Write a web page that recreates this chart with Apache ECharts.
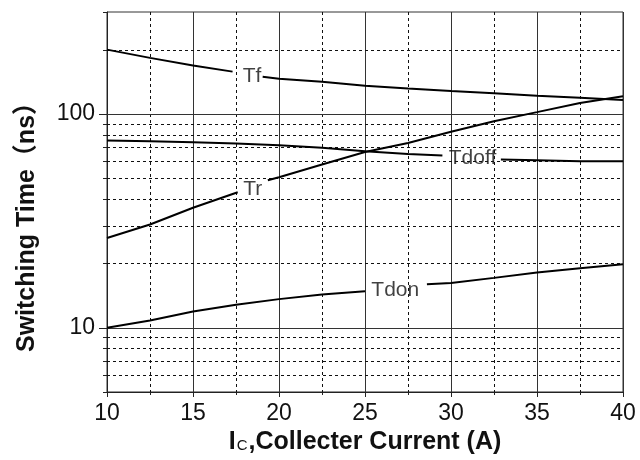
<!DOCTYPE html>
<html>
<head>
<meta charset="utf-8">
<script src="https://cdn.jsdelivr.net/npm/echarts@6/dist/echarts.min.js"></script>
<style>html,body{margin:0;padding:0;background:#fff;}#c{width:640px;height:460px;}</style>
</head>
<body>
<div id="c"></div>
<script>
// ---- data ----
const xTicks = [10, 15, 20, 25, 30, 35, 40];
const yMajor = [10, 100];
const yMinor = [6, 7, 8, 9, 20, 30, 40, 50, 60, 70, 80, 90, 200];
const yEdge = [5, 300];

const tfX = [10, 12.5, 15, 17.3, 18.2, 19.05, 20, 22.5, 25, 27.5, 30, 32.5, 35, 37.5, 40];
const tfY = [200, 183, 168.6, 157.8, '-', 149.4, 146, 141.5, 135.4, 131.5, 128.2, 125, 121.8, 119.1, 116.2];

const trX = [10, 12.5, 15, 17.6, 18.5, 19.35, 20, 22.5, 25, 27.5, 30, 32.5, 35, 37.5, 40];
const trY = [26.3, 30.4, 36.4, 43.0, '-', 49.0, 50.6, 58, 66.4, 73.2, 82.5, 92.5, 102, 112.6, 121];

const tdoffX = [10, 12.5, 15, 17.5, 20, 22.5, 25, 27.5, 29.5, 31.2, 32.9, 35, 37.5, 40];
const tdoffY = [75.1, 74.6, 73.8, 72.7, 71.4, 69.4, 66.9, 65, 64.0, '-', 61.2, 60.8, 60.1, 60.1];

const tdonX = [10, 12.5, 15, 17.5, 20, 22.5, 25, 26.8, 28.6, 30, 32.5, 35, 37.5, 40];
const tdonY = [10, 10.8, 11.9, 12.8, 13.6, 14.3, 14.8, '-', 15.95, 16.2, 17.1, 18.1, 18.95, 19.8];

const labelNames = ['Tf', 'Tr', 'Tdoff', 'Tdon'];
const labelX = [18.43, 18.47, 31.25, 26.76];
const labelY = [150, 44.3, 61.9, 14.96];

// ---- build ----
const pairs = (xs, ys) => xs.map((x, i) => [x, ys[i]]);
const FONT = '"Liberation Sans", Arial, "Noto Sans CJK SC", sans-serif';

const gridData = []
  .concat(yMajor.map(v => [10, v, 0]))
  .concat(yMinor.map(v => [10, v, 1]))
  .concat(yEdge.map(v => [10, v, 2]));

function lineSeries(name, xs, ys) {
  return {
    name, type: 'line', data: pairs(xs, ys), showSymbol: false, symbol: 'none',
    connectNulls: false, z: 5, animation: false,
    lineStyle: { color: '#000', width: 2 }
  };
}

const chart = echarts.init(document.getElementById('c'), null, { renderer: 'canvas' });
chart.setOption({
  animation: false,
  backgroundColor: '#fff',
  grid: { left: 107, right: 17, top: 12, bottom: 68, show: true, borderColor: '#333', borderWidth: 1 },
  xAxis: {
    type: 'value', min: 10, max: 40, interval: 5,
    axisLine: { lineStyle: { color: '#222', width: 1 } },
    axisTick: { show: true, length: 5, lineStyle: { color: '#222' } },
    minorTick: { show: true, splitNumber: 2, length: 3, lineStyle: { color: '#222' } },
    splitLine: { show: true, lineStyle: { color: '#333', width: 1 } },
    minorSplitLine: { show: true, lineStyle: { color: '#111', width: 1, type: [3, 3] } },
    axisLabel: { fontSize: 23, color: '#111', margin: 10, fontFamily: FONT },
    name: '{i|I}{c|C}{t|,Collecter Current (A)}',
    nameLocation: 'middle', nameGap: 38,
    nameTextStyle: {
      rich: {
        i: { fontSize: 25, fontWeight: 'bold', color: '#111', fontFamily: FONT },
        c: { fontSize: 15, color: '#111', fontFamily: FONT, padding: [7, 1, 0, 1] },
        t: { fontSize: 25, fontWeight: 'bold', color: '#111', fontFamily: FONT }
      }
    }
  },
  yAxis: {
    type: 'log', logBase: 10, min: 5, max: 300,
    axisLine: { show: true, lineStyle: { color: '#222', width: 1 } },
    axisTick: { show: false },
    splitLine: { show: false },
    minorTick: { show: false },
    axisLabel: {
      fontSize: 23, color: '#111', margin: 12, fontFamily: FONT,
      formatter: v => (yMajor.some(m => Math.abs(v - m) < 1e-6 * m) ? String(Math.round(v)) : '')
    }
  },
  graphic: [{
    type: 'text', x: 27, y: 221, rotation: Math.PI / 2,
    style: {
      text: 'Switching Time（ns）', fontSize: 25, fontWeight: 'bold', fontFamily: FONT,
      fill: '#111', align: 'center', verticalAlign: 'middle'
    }
  }],
  series: [
    {
      type: 'custom', data: gridData, clip: false, z: 1, silent: true,
      renderItem: function (params, api) {
        const v = api.value(1), kind = api.value(2);
        const p0 = api.coord([10, v]), p1 = api.coord([40, v]);
        const y = Math.round(p0[1]) + 0.5;
        const children = [];
        if (kind !== 2) {
          children.push({
            type: 'line', shape: { x1: p0[0], y1: y, x2: p1[0], y2: y },
            style: kind === 0 ? { stroke: '#333', lineWidth: 1 } : { stroke: '#111', lineWidth: 1, lineDash: [3, 3] }
          });
        }
        const len = kind === 0 ? 8 : 4;
        children.push({
          type: 'line', shape: { x1: p0[0] - len, y1: y, x2: p0[0], y2: y },
          style: { stroke: '#222', lineWidth: 1 }
        });
        return { type: 'group', children };
      }
    },
    lineSeries('Tf', tfX, tfY),
    lineSeries('Tr', trX, trY),
    lineSeries('Tdoff', tdoffX, tdoffY),
    lineSeries('Tdon', tdonX, tdonY),
    {
      type: 'scatter', symbolSize: 0, z: 6, silent: true,
      data: labelNames.map((n, i) => ({ name: n, value: [labelX[i], labelY[i]] })),
      label: {
        show: true, position: 'inside', formatter: p => p.name,
        fontSize: 21, color: '#111', fontFamily: FONT
      }
    }
  ]
});
</script>
</body>
</html>
